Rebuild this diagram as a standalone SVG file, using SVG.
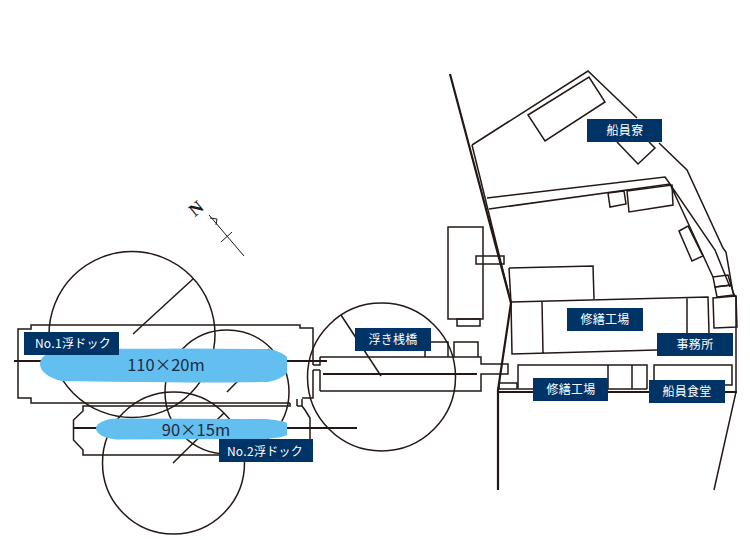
<svg xmlns="http://www.w3.org/2000/svg" width="750" height="540" viewBox="0 0 750 540">
<style>
.l{fill:none;stroke:#231815;stroke-width:1.5;stroke-linejoin:miter}
.t{fill:none;stroke:#231815;stroke-width:2.2}
.f{fill:none;stroke:#231815;stroke-width:1}
.ship{fill:#62bff0}
.box{fill:#003366}
.lb{font-family:"Noto Sans CJK JP","Noto Sans",sans-serif;font-size:12px;letter-spacing:.3px;fill:#fff;text-anchor:middle}
.dim{font-family:"Noto Sans CJK JP","Noto Sans",sans-serif;font-size:16.5px;fill:#1f2a44;text-anchor:middle}
</style>
<rect width="750" height="540" fill="#fff"/>
<g id="connectors">
<!-- crane circles -->
<circle class="l" cx="132" cy="334.500" r="83"/>
<path class="l" d="M193 279L133 334"/>
<circle class="l" cx="227" cy="392" r="62"/>
<path class="l" d="M269 349L227 392"/>
<circle class="l" cx="173.500" cy="463" r="71"/>
<path class="l" d="M224 413L173 463"/>
<circle class="l" cx="381.500" cy="377" r="74"/>
<path class="l" d="M341 315L381 376"/>
<!-- dock 1 -->
<path class="l" d="M313 361V328H300V325H31V329H18V398H31V403H290"/>
<path class="l" d="M313 365V361M313 365H320V357M313 370V398H302"/>
<path class="t" d="M14 361H327"/>
<path class="l" d="M313 370H320M320 370V391"/>
<!-- dock 2 -->
<path class="l" d="M290 403V406H83V411L73.500 420V440L83 450V455H220"/>
<path class="l" d="M297 406V399M302 399V406L305 410L310 418V440M297 406H302"/>
<path class="t" d="M73 428H357"/>
<!-- pier -->
<path class="l" d="M320 357H481V364H508V374H481V391H320"/>
<path class="t" d="M323 374H477"/>
<path class="l" d="M425 357V342H448V357M454 357V342H478V357"/>
<!-- north mark -->
<path class="f" d="M209 215L244 256M221 242L232 232M210 218L217 219L216 225"/>
<!-- site boundary -->
<path class="t" d="M450 74L511 303L498 390V490M497 392H737"/>
<path class="l" d="M472 145L511 303"/>
<path class="l" d="M472 145L588 71L637 118M659 143L687 170L723 248L726 252L733 293L736 297V392L714 490"/>
<path class="l" d="M528 115L589 77L605 102L545 141Z"/>
<path class="l" d="M617 142L638 164L655 148L649 142"/>
<path class="l" d="M487 198L665 177L670 184M489 209L670 184L715 250L730 287M670 184L713 277"/>
<path class="l" d="M608 193L624 191L626 204L610 207Z"/>
<path class="l" d="M627 191L672 185L673 205L629 212Z"/>
<path class="l" d="M679 231L688 226L703 256L692 261Z"/>
<path class="l" d="M476 256H504V264H476Z"/>
<path class="l" d="M448 227H483V319H448Z"/>
<path class="l" d="M457 319H480V326H457Z"/>
<path class="l" d="M509 268L593 266L594 299"/>
<path class="l" d="M509 268L511 303"/>
<!-- east small buildings -->
<path class="l" d="M713 277L728 275L731 285L715 287Z"/>
<path class="l" d="M715 287L731 285L734 295L717 297Z"/>
<path class="l" d="M713 298L736 296L737 327L714 328Z"/>
<!-- factory -->
<path class="l" d="M511 302L708 297L709 333M511 302L512 354L657 350M542 302L543 353M687 298V333"/>
<path class="l" d="M518 389V365H647V389M518 389H647M608 365V389M632 365V389"/>
<path class="l" d="M654 380V365H732V385H725"/>
<path class="l" d="M499 389V383H517V389Z"/>
</g>
<g id="dock1"><path class="ship" d="M40 364C40 357 48 351 62 349.500C100 348 140 349 180 348.500L267 349C276 350 283 353 287 357V373C283 377 276 381 267 382C200 383 120 382 62 381C48 378 40 371 40 364Z"/>
<text class="dim" x="166" y="371">110×20m</text>
<rect class="box" x="24" y="332" width="95" height="23"/><text class="lb" x="73" y="348">No.1浮ドック</text></g>
<g id="dock2"><path class="ship" d="M96 428.500C96 423 106 418.500 117 418.500L267 419C276 420 283 421 287 423V435C283 437 276 438 267 439L117 439.500C106 439 96 434 96 428.500Z"/>
<text class="dim" x="196" y="436">90×15m</text>
<rect class="box" x="219" y="439" width="94" height="23"/><text class="lb" x="265" y="455.500">No.2浮ドック</text></g>
<g id="pier"><rect class="box" x="355" y="328" width="76" height="23"/><text class="lb" x="393" y="344">浮き桟橋</text></g>
<g id="dormitory"><rect class="box" x="587" y="119" width="75" height="23"/><text class="lb" x="625" y="135">船員寮</text></g>
<g id="factory1"><rect class="box" x="567" y="308" width="76" height="23"/><text class="lb" x="605" y="324">修繕工場</text></g>
<g id="office"><rect class="box" x="657" y="333" width="76" height="23"/><text class="lb" x="695" y="349">事務所</text></g>
<g id="factory2"><rect class="box" x="533" y="378" width="75" height="23"/><text class="lb" x="571" y="394">修繕工場</text></g>
<g id="canteen"><rect class="box" x="649" y="380" width="76" height="23"/><text class="lb" x="687" y="396">船員食堂</text></g>
<g id="north"><text transform="translate(200 213) rotate(-40)" font-family="Liberation Serif,serif" font-weight="bold" font-size="18" fill="#231815" text-anchor="middle">N</text></g>
</svg>
